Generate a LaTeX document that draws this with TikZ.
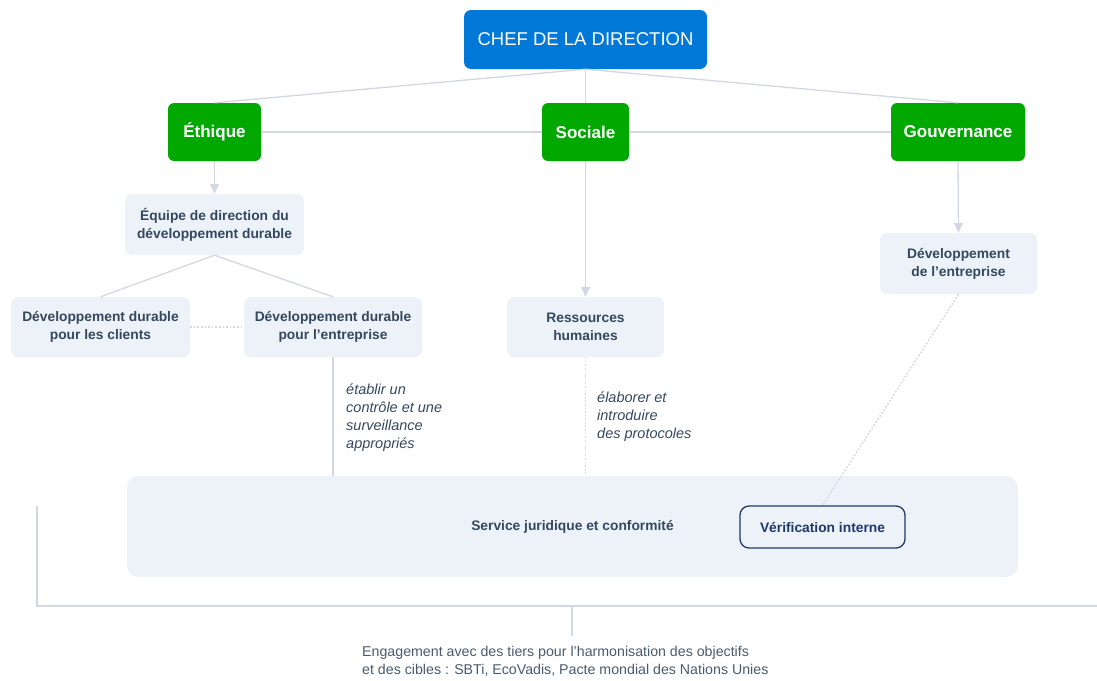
\documentclass[tikz,border=0pt]{standalone}
\usepackage{fontspec}
\setmainfont{Liberation Sans}
\usetikzlibrary{arrows.meta}
\definecolor{ceoblue}{RGB}{0,120,215}
\definecolor{pillar}{RGB}{0,168,0}
\definecolor{boxfill}{RGB}{237,241,248}
\definecolor{ink}{RGB}{52,72,94}
\definecolor{linkgray}{RGB}{210,215,225}
\definecolor{navy}{RGB}{30,58,106}
\newcommand{\boxfont}{\fontsize{13.8}{18}\selectfont\bfseries}

\tikzset{
  unit/.style={rounded corners=7pt, fill=boxfill, text=ink, font=\boxfont, align=center, inner sep=0pt},
  pillarbox/.style={rounded corners=6pt, fill=pillar, text=white, font=\fontsize{17}{20}\selectfont\bfseries, inner sep=0pt, minimum height=58pt},
  link/.style={draw=linkgray, line width=1.3pt},
  arr/.style={link, -{Triangle[width=9pt,length=10pt]}},
  dots/.style={draw=linkgray, line width=1.6pt, dotted},
  note/.style={font=\fontsize{14.5}{18}\selectfont\itshape, text=ink, align=left, anchor=north west, inner sep=0pt}
}

\begin{document}
\begin{tikzpicture}[x=1pt, y=-1pt]
      \useasboundingbox (0,0) rectangle (1097,680);
      \node [rounded corners=7pt, fill=ceoblue, text=white, font=\fontsize{18.5}{20}\selectfont,
             minimum width=243pt, minimum height=59pt, inner sep=0pt] (ceo) at (585.5,39.5) {CHEF DE LA DIRECTION};
      \node [pillarbox, minimum width=93pt] (eth) at (214.5,132) {Éthique};
      \node [pillarbox, minimum width=87pt] (soc) at (585.5,132) {Sociale};
      \node [pillarbox, minimum width=134pt] (gov) at (958,132) {Gouvernance};

      \node [unit, minimum width=179pt, minimum height=61pt] (team) at (214.5,224.5) {Équipe de direction du\\développement durable};
      \node [unit, minimum width=179pt, minimum height=60pt] (cli) at (100.5,327) {Développement durable\\pour les clients};
      \node [unit, minimum width=178pt, minimum height=60pt] (ent) at (333,327) {Développement durable\\pour l’entreprise};
      \node [unit, minimum width=157pt, minimum height=60pt] (hr) at (585.5,327) {Ressources\\humaines};
      \node [unit, minimum width=157pt, minimum height=61pt] (dev) at (958.5,263.5) {Développement\\de l’entreprise};

      \node [unit, rounded corners=12pt, minimum width=891pt, minimum height=101pt] (legal) at (572.5,526.5) {Service juridique et conformité};
      \node [unit, draw=navy, line width=1.3pt, text=navy, rounded corners=9pt,
             minimum width=165pt, minimum height=42pt] (audit) at (822.5,527) {Vérification interne};

      \draw [link] (ceo.south) -- (eth.north);
      \draw [link] (ceo.south) -- (soc.north);
      \draw [link] (ceo.south) -- (gov.north);
      \draw [link] (eth.east) -- (soc.west);
      \draw [link] (soc.east) -- (gov.west);

      \draw [arr] (eth.south) -- (team.north);
      \draw [arr] (soc.south) -- (hr.north);
      \draw [arr] (gov.south) -- (dev.north);

      \draw [link] (team.south) -- (cli.north);
      \draw [link] (team.south) -- (ent.north);
      \draw [dots] (cli.east) -- (ent.west);

      \draw [link] (ent.south) -- (ent.south |- legal.north);
      \draw [dots] (hr.south) -- (hr.south |- legal.north);
      \draw [dots] (dev.south) -- (audit.north);

      \node [note] (n1) at (346,384) {établir un\\contrôle et une\\surveillance\\appropriés};
      \node [note] (n2) at (597,392) {élaborer et\\introduire\\des protocoles};

      \coordinate (bl) at (37,506);
      \coordinate (bc) at (572,606);
      \coordinate (br) at (1097,606);
      \draw [link] (bl) |- (br);
      \node [font=\fontsize{14.2}{18}\selectfont, text=ink!90, align=left, anchor=north west, inner sep=0pt]
            (ext) at (362,646) {Engagement avec des tiers pour l’harmonisation des objectifs\\et des cibles : SBTi, EcoVadis, Pacte mondial des Nations Unies};
      \draw [link] (bc) -- ([yshift=10pt]bc |- ext.north);
\end{tikzpicture}
\end{document}
